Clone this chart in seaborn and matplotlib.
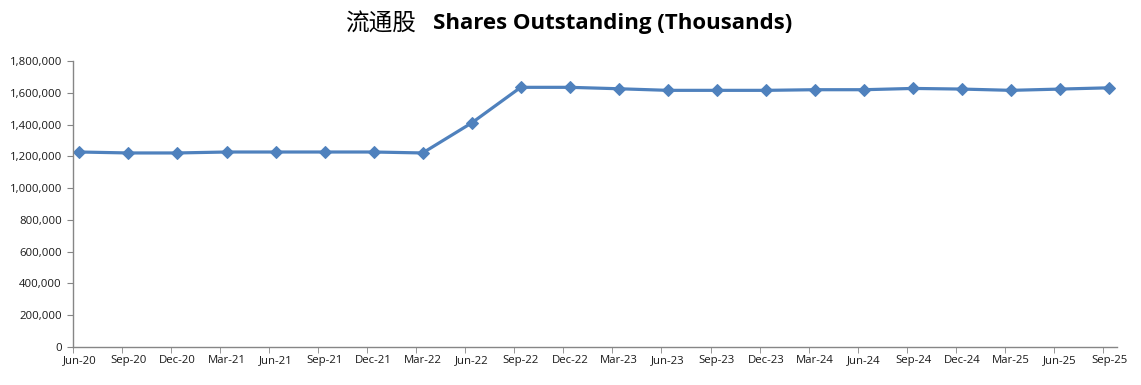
import numpy as np
import pandas as pd
import matplotlib
matplotlib.use("Agg")
import matplotlib.pyplot as plt
from matplotlib.ticker import FuncFormatter, FixedLocator
import seaborn as sns

# quarter labels and shares outstanding (thousands)
quarters = ["Jun-20", "Sep-20", "Dec-20", "Mar-21", "Jun-21", "Sep-21", "Dec-21", "Mar-22",
            "Jun-22", "Sep-22", "Dec-22", "Mar-23", "Jun-23", "Sep-23", "Dec-23", "Mar-24",
            "Jun-24", "Sep-24", "Dec-24", "Mar-25", "Jun-25", "Sep-25"]
shares = [1227000, 1221000, 1221000, 1227000, 1227000, 1227000, 1227000, 1221000,
          1410000, 1634000, 1634000, 1625000, 1615000, 1615000, 1615000, 1619000,
          1619000, 1627000, 1623000, 1615000, 1623000, 1631000]
y_ticks = [0, 200000, 400000, 600000, 800000, 1000000, 1200000, 1400000, 1600000, 1800000]

df = pd.DataFrame({"pos": np.arange(len(quarters)), "shares": shares})

sns.set_style("white")
plt.rcParams["font.family"] = ["Open Sans", "DejaVu Sans"]

fig = plt.figure(figsize=(11.41, 3.85), dpi=100)
ax = fig.add_axes([0.064, 0.0987, 0.915, 0.743])

sns.lineplot(data=df, x="pos", y="shares", ax=ax, color="#4F81BD", linewidth=2.3,
             marker="D", markersize=6, markeredgecolor="#4F81BD")

ax.set_xlim(-0.13, len(quarters) - 1 + 0.16)
ax.set_ylim(0, 1800000)
ax.set_xlabel("")
ax.set_ylabel("")

# labels under the points, tick marks slightly to the left of them
ax.set_xticks(df["pos"])
ax.set_xticklabels(quarters, fontsize=8.2, color="#1a1a1a")
ax.tick_params(axis="x", which="major", length=0, pad=6)
ax.xaxis.set_minor_locator(FixedLocator(df["pos"].values - 0.13))
ax.tick_params(axis="x", which="minor", length=4, direction="out", color="#868686", bottom=True)

ax.set_yticks(y_ticks)
ax.yaxis.set_major_formatter(FuncFormatter(lambda v, p: f"{int(v):,}"))
ax.tick_params(axis="y", length=4, direction="out", color="#868686", left=True,
               labelsize=8.2, labelcolor="#1a1a1a", pad=4)

for s in ["top", "right"]:
    ax.spines[s].set_visible(False)
for s in ["left", "bottom"]:
    ax.spines[s].set_color("#868686")
    ax.spines[s].set_linewidth(1)

# title: Chinese part regular, English part bold
fig.text(345 / 1141, 1 - 24 / 385, "流通股", family=["Noto Sans CJK SC", "DejaVu Sans"],
         fontsize=17, ha="left", va="center", color="black")
fig.text(433 / 1141, 1 - 24 / 385, "Shares Outstanding (Thousands)", family=["Open Sans", "DejaVu Sans"],
         fontsize=16, fontweight="bold", ha="left", va="center", color="black")

fig.savefig("out.png", dpi=100)
